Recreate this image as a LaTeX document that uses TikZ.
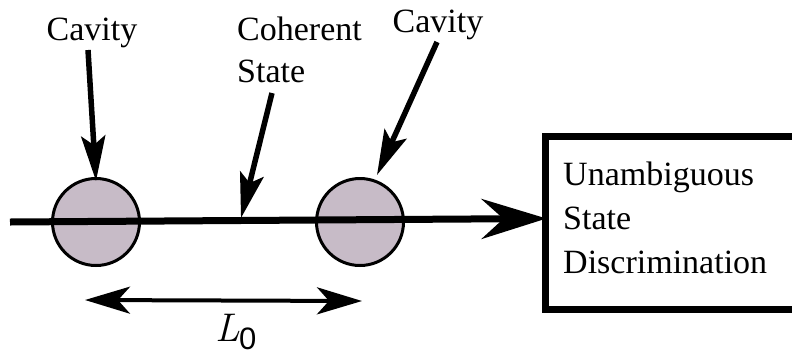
\documentclass[tikz,border=0pt]{standalone}
\usepackage{fontspec}
\setmainfont{Liberation Serif}
\newfontfamily\tnr{Liberation Serif}
\newfontfamily\lmfont{Latin Modern Roman}
\newfontfamily\subsans{Liberation Sans}
\usetikzlibrary{arrows.meta}
\definecolor{cavfill}{RGB}{199,187,199}
\tikzset{
  lbl/.style={font=\tnr\fontsize{34}{42}\selectfont, inner sep=0pt},
  cavity/.style={circle, draw=black, line width=3pt, fill=cavfill, minimum size=87pt, inner sep=0pt},
  pointer/.style={line width=5.5pt, -{Stealth[length=45pt, width=24pt, inset=9pt]}},
  beam/.style={line width=7pt, -{Stealth[length=65pt, width=40pt, inset=22pt]}},
  dist/.style={line width=4pt, {Stealth[length=45pt, width=27pt, inset=12pt]}-{Stealth[length=45pt, width=27pt, inset=12pt]}},
  usdbox/.style={draw=black, line width=7pt, minimum width=265pt, minimum height=173pt, inner sep=0pt}
}
\begin{document}
\begin{tikzpicture}[x=1pt, y=-1pt]
\useasboundingbox (0,0) rectangle (792,357);
\clip (0,0) rectangle (792,357);
\fill[white] (0,0) rectangle (792,357);
% box
\node[usdbox] (usd) at (677.5,222.5) {};
\node[lbl, anchor=north west, align=left, font=\tnr\fontsize{34}{44}\selectfont] (usdtext) at (563,162) {Unambiguous\\State\\Discrimination};
% cavities
\node[cavity] (c1) at (96,222) {};
\node[cavity] (c2) at (360,222) {};
% beam
\coordinate (start) at (10,222);
\draw[beam] (start) -- ([yshift=4pt,xshift=5pt]usd.west);
% labels
\node[lbl, anchor=base] (cav1) at (92,40) {Cavity};
\node[lbl, anchor=base] (cav2) at (438,32) {Cavity};
\node[lbl, anchor=north west, align=left] (coh) at (237,17) {Coherent\\State};
% pointer coordinates
\coordinate (t1) at (88,50);
\coordinate (h1) at (96,181);
\coordinate (t2) at (272,93);
\coordinate (h2) at (241,218);
\coordinate (t3) at (437,42);
\coordinate (h3) at (377,175);
\draw[pointer] (t1) -- (h1);
\draw[pointer] (t2) -- (h2);
\draw[pointer] (t3) -- (h3);
% distance
\coordinate (d1) at (85,300);
\coordinate (d2) at (362,301);
\draw[dist] (d1) -- (d2);
\node[inner sep=0pt, anchor=base] (l0) at (236,341) {{\fontsize{40}{40}\selectfont\lmfont\itshape L}\kern-1pt\raisebox{-8pt}{\fontsize{31}{31}\selectfont\subsans 0}};
\end{tikzpicture}
\end{document}
